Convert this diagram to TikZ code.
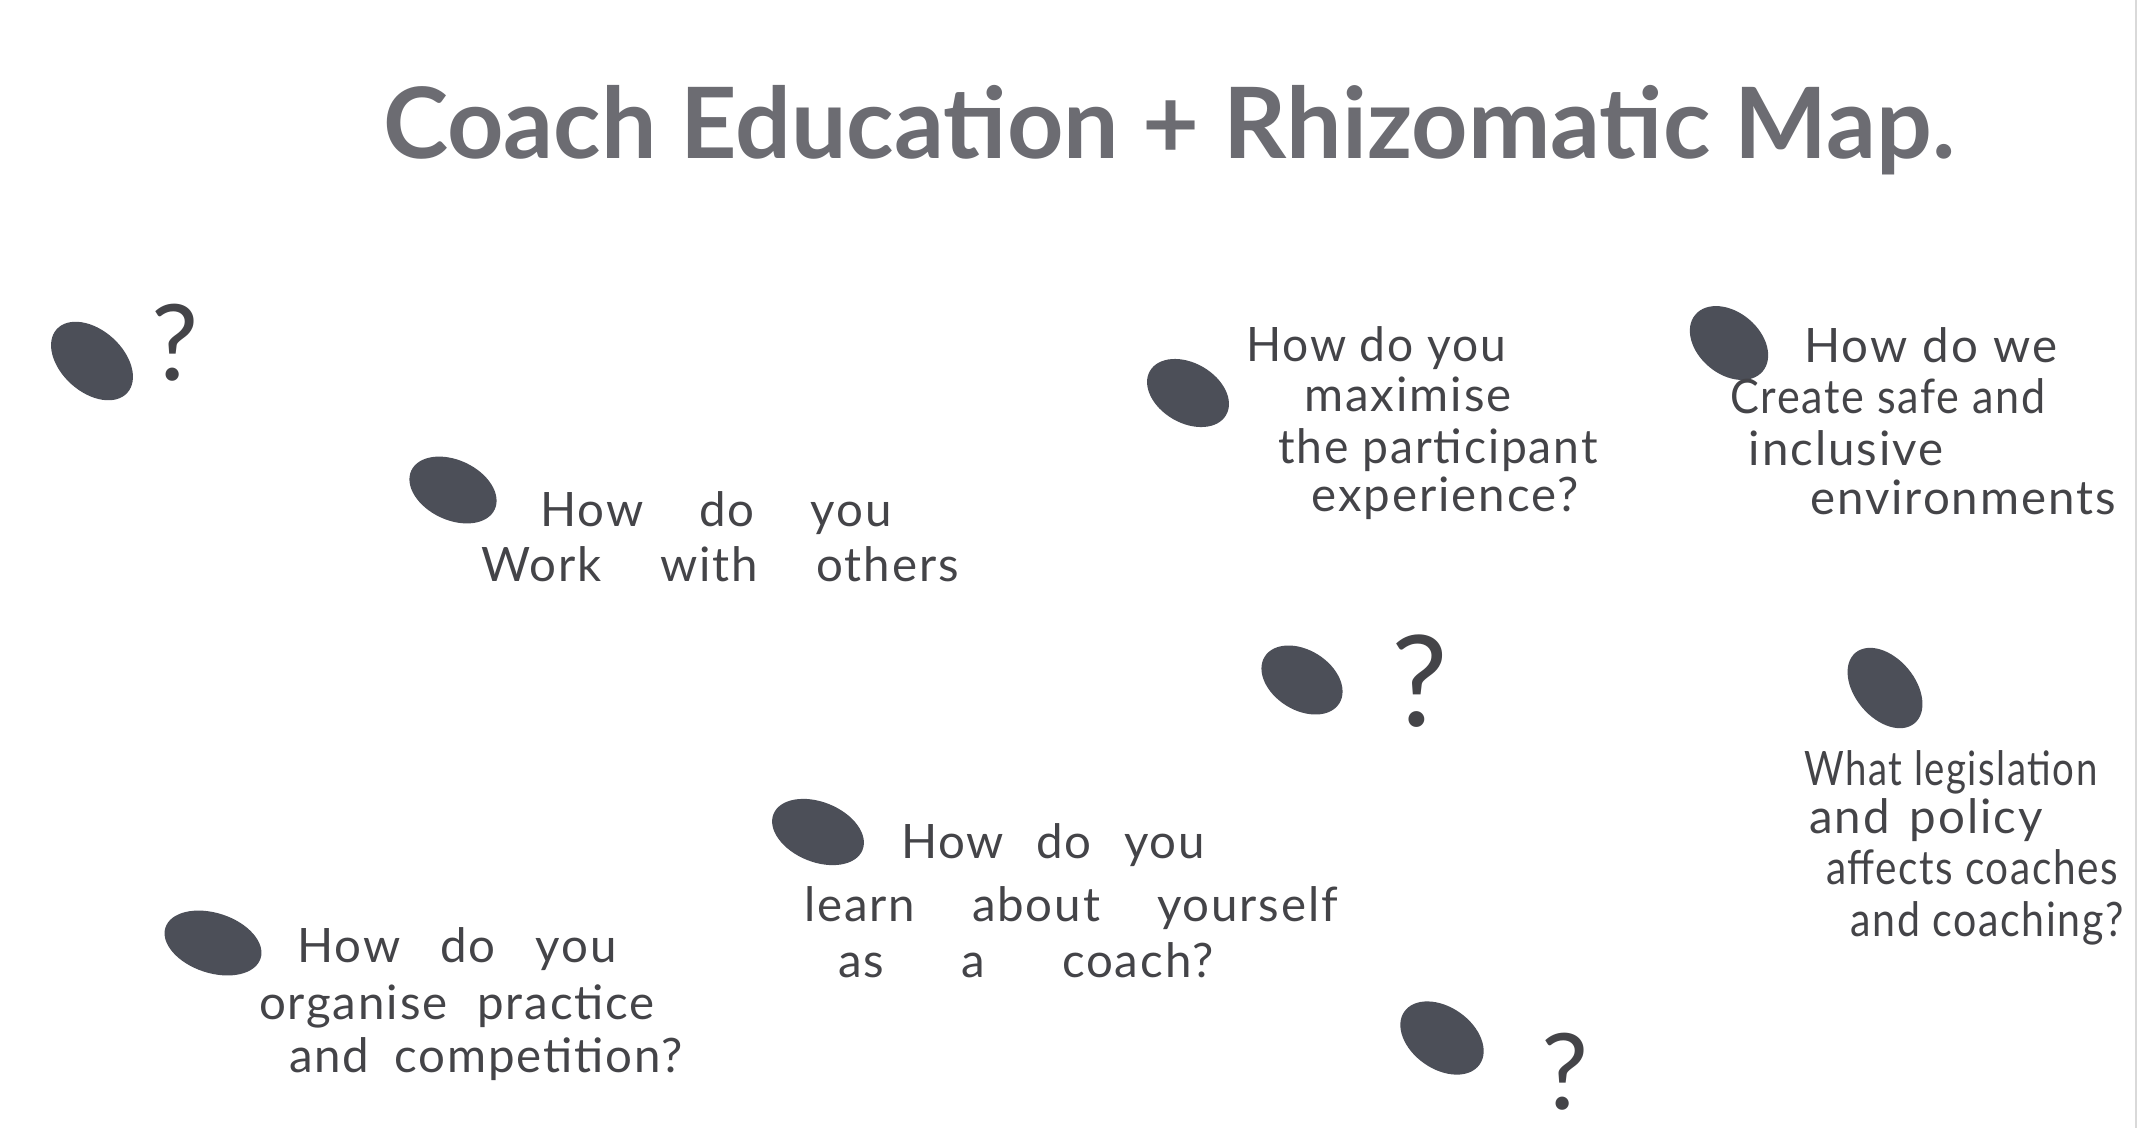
\documentclass[tikz,border=0pt]{standalone}
\usepackage{fontspec}
\setmainfont{Lato}
\newfontfamily\handfont[LetterSpace=4]{Lato}
\usetikzlibrary{shapes.geometric}
\definecolor{blobgray}{RGB}{76,79,88}
\definecolor{inkgray}{RGB}{68,68,72}
\definecolor{titlegray}{RGB}{108,108,114}
% one handwritten line, fitted to the given width
\newlength{\handwd}
\newcommand{\handline}[2]{\settowidth{\handwd}{#2}%
  \ifdim\handwd>#1\relax\resizebox{#1}{\height}{#2}\else\makebox[#1][s]{#2}\fi}

\begin{document}
\begin{tikzpicture}[
    blob_node/.style={ellipse,fill=blobgray,inner sep=0pt},
    hand_text/.style={text=inkgray,font=\handfont\fontsize{13.5}{16}\selectfont,anchor=mid,inner sep=0pt},
    mark_text/.style={text=inkgray,font=\fontsize{30}{36}\selectfont,anchor=center,inner sep=0pt},
    title_text/.style={text=titlegray,font=\bfseries\fontsize{28}{34}\selectfont,anchor=base,inner sep=0pt},
    scan_edge/.style={gray!30,thin}]
  \fill[white] (0.00,0.00) rectangle (21.56,-11.28);
  \useasboundingbox (0.00,0.00) rectangle (21.56,-11.28);
  \draw[scan_edge] (21.36,0.00) -- (21.36,-11.28);
% title
\node[title_text] (title) at (11.69,-1.58) {Coach Education + Rhizomatic Map.};
% blobs
\node[blob_node,minimum width=9.5mm,minimum height=6.2mm,rotate=-42] (0) at (0.92,-3.61) {};
\node[blob_node,minimum width=9.2mm,minimum height=6.0mm,rotate=-25] (1) at (4.53,-4.90) {};
\node[blob_node,minimum width=8.8mm,minimum height=6.0mm,rotate=-30] (2) at (11.88,-3.93) {};
\node[blob_node,minimum width=8.8mm,minimum height=6.2mm,rotate=-40] (3) at (17.29,-3.43) {};
\node[blob_node,minimum width=8.8mm,minimum height=6.0mm,rotate=-32] (4) at (13.02,-6.80) {};
\node[blob_node,minimum width=9.2mm,minimum height=6.0mm,rotate=-50] (5) at (18.85,-6.88) {};
\node[blob_node,minimum width=9.6mm,minimum height=6.0mm,rotate=-22] (6) at (8.18,-8.32) {};
\node[blob_node,minimum width=10.0mm,minimum height=6.0mm,rotate=-18] (7) at (2.13,-9.43) {};
\node[blob_node,minimum width=9.2mm,minimum height=6.2mm,rotate=-35] (8) at (14.42,-10.38) {};
% question marks
\node[mark_text] (m0) at (1.75,-3.43) {?};
\node[mark_text,font=\fontsize{36}{42}\selectfont] (m4) at (14.20,-6.81) {?};
\node[mark_text] (m8) at (15.65,-10.72) {?};
% texts
\node[hand_text] (t1a) at (7.16,-5.18) {\handline{3.51cm}{How do you}};
\node[hand_text] (t1b) at (7.20,-5.73) {\handline{4.77cm}{Work with others}};
\node[hand_text] (t2a) at (13.76,-3.53) {\handline{2.60cm}{How do you}};
\node[hand_text] (t2b) at (14.08,-4.03) {maximise};
\node[hand_text] (t2c) at (14.38,-4.55) {\handline{3.19cm}{the participant}};
\node[hand_text] (t2d) at (14.45,-5.03) {experience?};
\node[hand_text] (t3a) at (19.31,-3.54) {\handline{2.53cm}{How do we}};
\node[hand_text] (t3b) at (18.88,-4.05) {\handline{3.15cm}{Create safe and}};
\node[hand_text] (t3c) at (18.46,-4.57) {inclusive};
\node[hand_text] (t3d) at (19.63,-5.06) {environments};
\node[hand_text] (t5a) at (19.51,-7.77) {\handline{2.93cm}{What legislation}};
\node[hand_text] (t5b) at (19.26,-8.25) {\handline{2.33cm}{and policy}};
\node[hand_text] (t5c) at (19.72,-8.76) {\handline{2.92cm}{affects coaches}};
\node[hand_text] (t5d) at (19.87,-9.28) {\handline{2.73cm}{and coaching?}};
\node[hand_text] (t6a) at (10.53,-8.50) {\handline{3.04cm}{How do you}};
\node[hand_text] (t6b) at (10.71,-9.13) {\handline{5.34cm}{learn about yourself}};
\node[hand_text] (t6c) at (10.26,-9.69) {\handline{3.75cm}{as a coach?}};
\node[hand_text] (t7a) at (4.57,-9.54) {\handline{3.19cm}{How do you}};
\node[hand_text] (t7b) at (4.57,-10.11) {\handline{3.96cm}{organise practice}};
\node[hand_text] (t7c) at (4.86,-10.64) {\handline{3.94cm}{and competition?}};
\end{tikzpicture}
\end{document}
